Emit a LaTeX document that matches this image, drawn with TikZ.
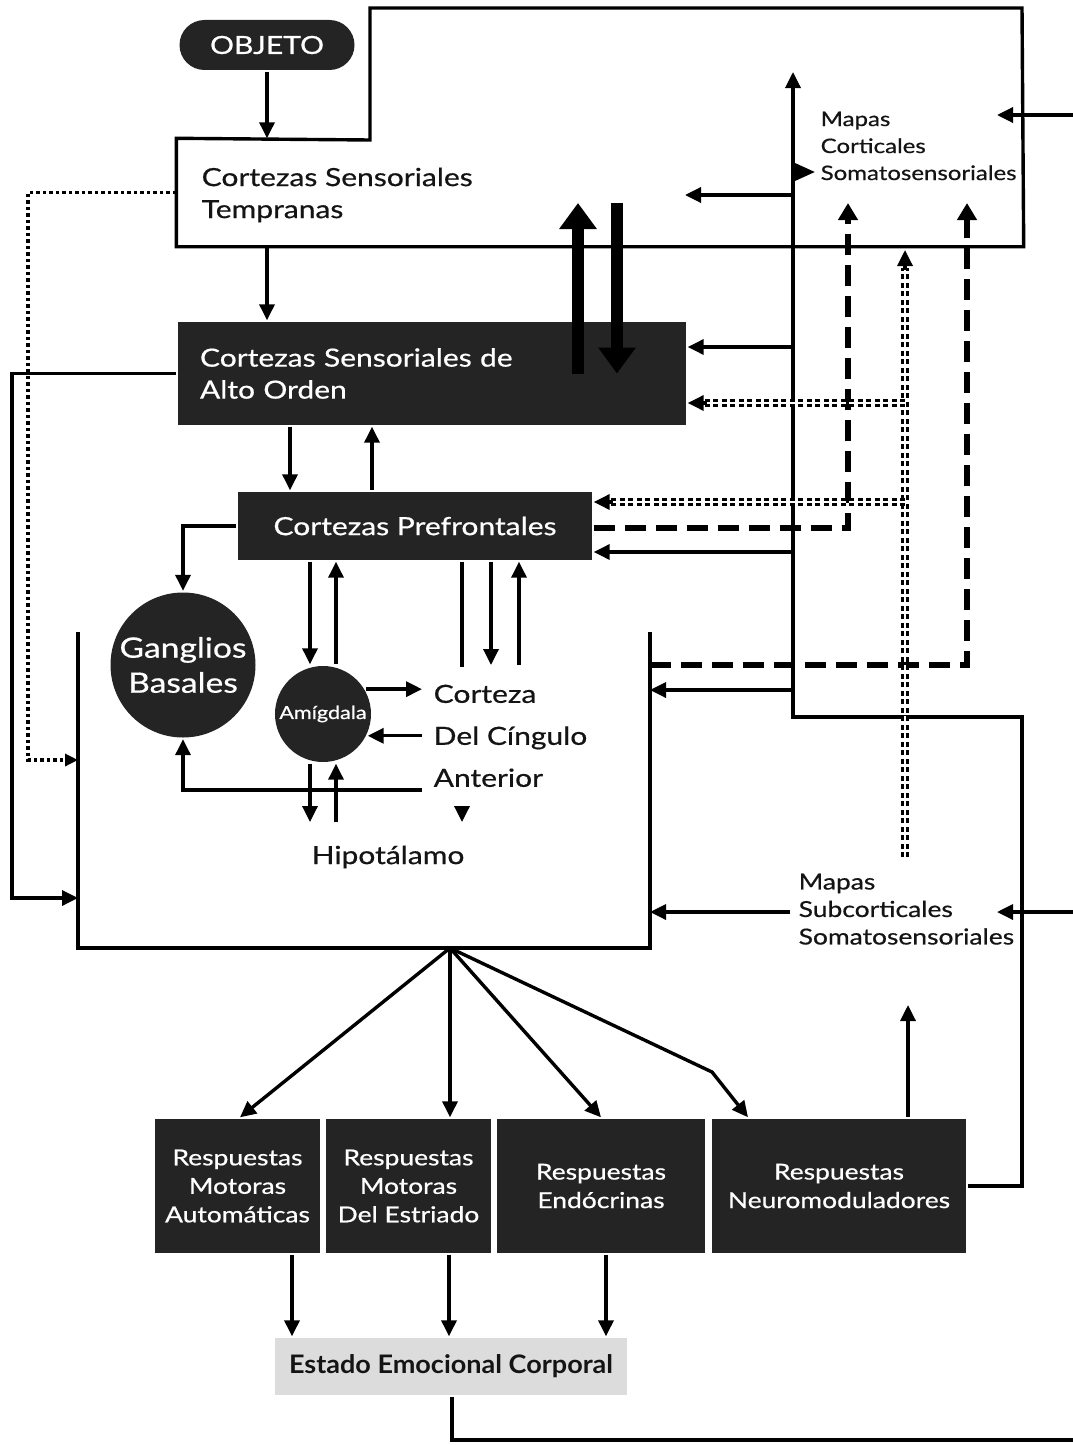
\documentclass[tikz,border=0pt]{standalone}
\usepackage{fontspec}
\setmainfont{Lato}[FakeStretch=1.2,FakeBold=0.6]
\newfontfamily\condfont{Lato}[FakeStretch=1.06]
\usetikzlibrary{arrows.meta}
\definecolor{boxfill}{HTML}{242424}
\definecolor{ink}{HTML}{141414}
\definecolor{statefill}{HTML}{DCDCDC}

\begin{document}
\begin{tikzpicture}[x=1pt,y=-1pt,line width=3.4pt,
  tip/.style={-{Triangle[length=16pt,width=15pt]}},
  bigtip/.style={line width=12pt,-{Triangle[length=26pt,width=36pt]}},
  dashedlink/.style={line width=6pt,dash pattern=on 21pt off 10pt,-{Triangle[length=17pt,width=19pt]}},
  dotlink/.style={line width=3.5pt,dash pattern=on 3.5pt off 3pt},
  ddlink/.style={double,line width=2.6pt,double distance=2pt,dash pattern=on 5pt off 3.5pt},
  darkbox/.style={fill=boxfill,text=white,inner sep=0pt,draw=none},
  txt/.style={text=ink,inner sep=0pt},
  big/.style={font=\fontsize{25}{32}\selectfont},
  resp/.style={darkbox,minimum height=134pt,align=center,font=\fontsize{22}{28.5}\selectfont},
]
\useasboundingbox (0,0) rectangle (1073,1445);

% ---------- nodes ----------
\node[darkbox,rounded corners=25pt,minimum width=175pt,minimum height=50pt,big] (obj) at (267,45) {OBJETO};

\node[minimum width=844pt,minimum height=105pt,inner sep=0pt] (tbox) at (600,192.5) {};
\draw (tbox.north west) -- (370,140) -- (370,8) -- (1022,8) -- (tbox.south east) -- (tbox.south west) -- cycle;
\node[txt,big,anchor=west,align=left] (tlab) at (200,195) {Cortezas Sensoriales\\Tempranas};

\node[darkbox,big,minimum width=508pt,minimum height=103pt,text width=464pt,align=left] (alto) at (432,373.5) {Cortezas Sensoriales de\\Alto Orden};
\node[darkbox,big,minimum width=354pt,minimum height=68pt] (pf) at (415,526) {Cortezas Prefrontales};

\node[darkbox,circle,minimum size=145pt,align=center,font=\fontsize{28}{35}\selectfont] (gb) at (183,665) {Ganglios\\Basales};
\node[darkbox,circle,minimum size=96pt,font=\fontsize{18}{20}\selectfont] (am) at (323,714) {Amígdala};

\node[txt,anchor=north west,align=left,font=\fontsize{25}{42}\selectfont] (cing) at (432,683) {Corteza\\Del Cíngulo\\Anterior};
\node[txt,big] (hipo) at (388,857) {Hipotálamo};
\coordinate (hipoIn) at (388,822);

\node[txt,anchor=north west,align=left,font=\fontsize{20}{27}\selectfont] (mcort) at (819,110) {Mapas\\Corticales\\Somatosensoriales};
\node[txt,anchor=north west,align=left,font=\fontsize{22}{27.5}\selectfont] (msub) at (797,872) {Mapas\\Subcorticales\\Somatosensoriales};

\node[resp,minimum width=165pt] (r1) at (237.5,1186) {Respuestas\\Motoras\\Automáticas};
\node[resp,minimum width=165pt] (r2) at (408.5,1186) {Respuestas\\Motoras\\Del Estriado};
\node[resp,minimum width=208pt] (r3) at (601,1186) {Respuestas\\Endócrinas};
\node[resp,minimum width=254pt] (r4) at (839,1186) {Respuestas\\Neuromoduladores};

\node[fill=statefill,text=ink,inner sep=0pt,minimum width=352pt,minimum height=57pt,font=\condfont\bfseries\fontsize{25.5}{30}\selectfont] (est) at (451,1366.5) {Estado Emocional Corporal};

% limbic bracket
\coordinate (lbTL) at (78,632);
\coordinate (lbBL) at (78,948);
\coordinate (lbBR) at (650,948);
\coordinate (lbTR) at (650,632);
\draw (lbTL) -- (lbBL) -- (lbBR) -- (lbTR);
\coordinate (fan) at (450,948);

% ---------- connectors ----------
\draw[tip] (obj.south) -- (obj.south |- tbox.north);
\draw[tip] (obj.south |- tbox.south) -- (obj.south |- alto.north);
\draw[bigtip] (578,0 |- alto.center) -- (578,203);
\draw[bigtip] (617,203) -- (617,0 |- alto.center);

\draw[tip] (290,0 |- alto.south) -- (290,0 |- pf.north);
\draw[tip] (372,0 |- pf.north) -- (372,0 |- alto.south);
\draw[tip] (pf.west) -| (gb.north);

\draw[tip] (alto.west) -- (12,0 |- alto.west) -- (12,898) -- (lbTL |- 0,898);
\draw[dotlink,-{Triangle[length=13pt,width=12pt]}] (tbox.west) -- (28,0 |- tbox.west) -- (28,760) -- (lbTL |- 0,760);

\draw[tip] (310,0 |- pf.south) -- (310,0 |- am.north);
\draw[tip] (336,0 |- am.north) -- (336,0 |- pf.south);
\draw[tip] (310,0 |- am.south) -- (310,0 |- hipoIn);
\draw[tip] (336,0 |- hipoIn) -- (336,0 |- am.south);

\draw[tip] (491,0 |- pf.south) -- (491,665);
\draw[tip] (519,665) -- (519,0 |- pf.south);
\draw[tip,dash pattern=on 105pt off 300pt] (462,0 |- pf.south) -- (462,0 |- hipoIn);

\draw[tip] (am.30) -- (422,0 |- am.30);
\draw[tip] (422,0 |- am.-26) -- (am.-26);
\draw[tip] (422,790) -| (gb.south);

% feedback column on the right
\draw[tip] (r4.east) -- (1022,0 |- r4.east) -- (1022,717) -- (793,717) -- (793,72);
\draw[-{Triangle[length=20pt,width=17pt]}] (793,172) -- (815,172);
\draw[tip] (793,195) -- (685,195);
\draw[tip] (793,347) -- (alto.east |- 0,347);
\draw[tip] (793,552) -- (pf.east |- 0,552);
\draw[tip] (793,690) -- (lbTR |- 0,690);

\draw[dashedlink] (pf.east |- 0,528) -- (848,528) -- (848,203);
\draw[dashedlink] (lbTR |- 0,665) -- (967,665) -- (967,203);

\draw[ddlink] (905,857) -- (905,268);
\draw[tip] (905,270) -- (905,250);
\draw[ddlink] (905,403) -- (704,403);
\draw[tip] (707,403) -- (alto.east |- 0,403);
\draw[ddlink] (905,502) -- (610,502);
\draw[tip] (613,502) -- (pf.east |- 0,502);

\draw[tip] (1073,115) -- (997,115);
\draw[tip] (1073,912) -- (997,912);
\draw[tip] (790,912) -- (lbTR |- 0,912);

\draw[tip] (908,0 |- r4.north) -- (908,1005);

% outputs of the limbic block
\draw[tip] (fan) -- (240,0 |- r1.north);
\draw[tip] (fan) -- (fan |- r2.north);
\draw[tip] (fan) -- (r3.north);
\draw[tip] (fan) -- (712,1072) -- (748,0 |- r4.north);

\draw[tip] (292,0 |- r1.south) -- (292,0 |- est.north);
\draw[tip] (449,0 |- r2.south) -- (449,0 |- est.north);
\draw[tip] (606,0 |- r3.south) -- (606,0 |- est.north);
\draw (452,0 |- est.south) -- (452,1440) -- (1073,1440);
\end{tikzpicture}
\end{document}
